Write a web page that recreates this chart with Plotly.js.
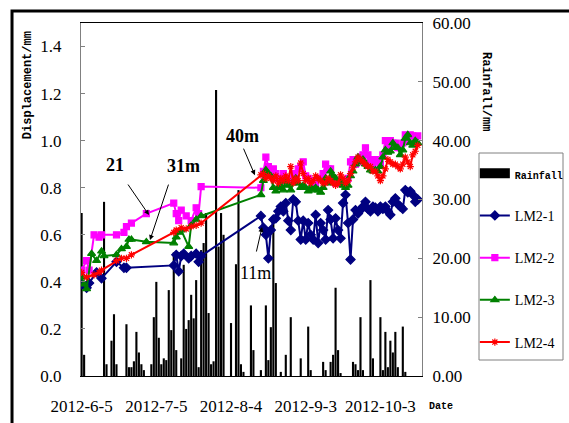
<!DOCTYPE html>
<html>
<head>
<meta charset="utf-8">
<script src="https://cdn.plot.ly/plotly-3.0.1.min.js"></script>
<style>
  html, body { margin: 0; padding: 0; background: #fff; }
  #chart { width: 569px; height: 423px; }
</style>
</head>
<body>
<div id="chart"></div>
<script>
// Daily rainfall (mm), one value per day starting 2012-06-05
const rainStart = '2012-06-05';
const rainfall = [
  27.7, 3.6, 0, 0, 0, 0, 0, 0, 0, 29.6,
  2, 0, 6, 10.5, 2, 0, 0, 0, 8.8, 1.5,
  1.5, 2.5, 7.5, 4, 2, 1, 0, 0, 2, 10,
  16, 6.5, 2, 3, 2.7, 14.6, 7.8, 21, 4.4, 0,
  3, 18.9, 8, 9.5, 13.8, 9.8, 16.3, 1.5, 21.4, 22.6,
  27.7, 10.7, 2, 2.5, 48.6, 22, 27.7, 24, 0, 0,
  9, 0, 19, 31.6, 2, 0.7, 0, 0, 12, 4.4,
  0, 0, 1, 0, 12, 2.7, 8.3, 26.5, 15.8, 0,
  0.7, 0, 3.6, 0, 10, 0, 0, 0, 3, 0,
  0, 8.4, 1, 0, 0, 0, 0, 2.4, 1, 0,
  2.4, 3.6, 15, 4.4, 0.5, 0, 0, 0, 0, 2.4,
  2, 1, 10, 1, 0, 0, 16.3, 3, 0, 0,
  10, 1, 7.5, 1.5, 6, 4, 7.5, 1.5, 0, 8.4,
  0.7, 0, 0, 0, 0, 0, 0
];

// Sparse early readings (June - July)
const lm1EarlyDates = ['2012-06-05','2012-06-07','2012-06-08','2012-06-11','2012-06-13','2012-06-19','2012-06-22','2012-06-23',
  '2012-07-12','2012-07-13','2012-07-14','2012-07-15','2012-07-16','2012-07-18','2012-07-19','2012-07-21','2012-07-22','2012-07-23'];
const lm1Early = [0.39, 0.375, 0.395, 0.44, 0.415, 0.485, 0.46, 0.46,
  0.47, 0.515, 0.445, 0.51, 0.52, 0.50, 0.51, 0.52, 0.485, 0.51];

const lm2EarlyDates = ['2012-06-05','2012-06-07','2012-06-08','2012-06-10','2012-06-12','2012-06-13','2012-06-19','2012-06-22',
  '2012-06-23','2012-06-25','2012-07-01','2012-07-12','2012-07-13','2012-07-14','2012-07-15','2012-07-17','2012-07-19',
  '2012-07-21','2012-07-22','2012-07-23'];
const lm2Early = [0.45, 0.49, 0.45, 0.60, 0.59, 0.60, 0.60, 0.61,
  0.635, 0.65, 0.69, 0.735, 0.69, 0.66, 0.705, 0.68, 0.66,
  0.715, 0.69, 0.805];

const lm3EarlyDates = ['2012-06-05','2012-06-06','2012-06-07','2012-06-09','2012-06-11','2012-06-13','2012-06-14','2012-06-19',
  '2012-06-21','2012-06-23','2012-06-24','2012-06-25','2012-07-01','2012-07-12','2012-07-13','2012-07-14','2012-07-15',
  '2012-07-18','2012-07-19','2012-07-21','2012-07-23'];
const lm3Early = [0.42, 0.39, 0.37, 0.52, 0.49, 0.53, 0.51, 0.515,
  0.54, 0.55, 0.58, 0.58, 0.57, 0.565, 0.59, 0.61, 0.62,
  0.55, 0.64, 0.665, 0.68];

const lm4EarlyDates = ['2012-06-05','2012-06-07','2012-06-10','2012-06-12','2012-06-13','2012-06-19','2012-06-21','2012-06-23',
  '2012-06-25','2012-07-12','2012-07-13','2012-07-15','2012-07-17','2012-07-19','2012-07-21','2012-07-23'];
const lm4Early = [0.44, 0.42, 0.43, 0.44, 0.45, 0.49, 0.50, 0.50,
  0.515, 0.61, 0.62, 0.63, 0.625, 0.635, 0.64, 0.65];

// Daily readings from 2012-08-16 to 2012-10-18
const dailyStart = '2012-08-16';
const lm1Daily = [
  0.68, 0.63, 0.60, 0.50, 0.62, 0.665, 0.67, 0.70, 0.72, 0.70,
  0.735, 0.66, 0.62, 0.75, 0.74, 0.66, 0.58, 0.66, 0.58, 0.65,
  0.60, 0.58, 0.685, 0.565, 0.65, 0.62, 0.58, 0.705, 0.665, 0.585,
  0.67, 0.62, 0.585, 0.735, 0.77, 0.65, 0.495, 0.665, 0.705, 0.69,
  0.705, 0.72, 0.74, 0.71, 0.70, 0.72, 0.715, 0.70, 0.72, 0.71,
  0.72, 0.70, 0.685, 0.74, 0.755, 0.73, 0.72, 0.71, 0.79, 0.78,
  0.785, 0.77, 0.74, 0.75
];
const lm2Daily = [
  0.80, 0.87, 0.93, 0.89, 0.86, 0.88, 0.86, 0.84, 0.83, 0.86,
  0.84, 0.83, 0.83, 0.86, 0.84, 0.88, 0.89, 0.91, 0.85, 0.84,
  0.83, 0.83, 0.82, 0.84, 0.84, 0.86, 0.90, 0.88, 0.88, 0.84,
  0.82, 0.83, 0.82, 0.83, 0.82, 0.84, 0.91, 0.92, 0.90, 0.91,
  0.93, 0.94, 0.97, 0.94, 0.92, 0.90, 0.92, 0.91, 0.90, 0.94,
  1.00, 0.98, 1.00, 0.99, 0.99, 0.97, 0.97, 0.99, 1.025, 1.00,
  1.025, 1.02, 1.01, 1.02
];
const lm3Daily = [
  0.77, 0.83, 0.875, 0.86, 0.85, 0.80, 0.785, 0.80, 0.81, 0.79,
  0.83, 0.81, 0.79, 0.82, 0.84, 0.82, 0.80, 0.81, 0.80, 0.785,
  0.80, 0.79, 0.80, 0.79, 0.78, 0.80, 0.84, 0.82, 0.87, 0.85,
  0.84, 0.82, 0.83, 0.81, 0.80, 0.81, 0.85, 0.87, 0.90, 0.93,
  0.91, 0.92, 0.90, 0.89, 0.875, 0.87, 0.875, 0.87, 0.89, 0.93,
  0.96, 0.95, 0.955, 0.99, 0.97, 0.97, 0.94, 0.96, 1.01, 1.025,
  0.99, 0.98, 1.00, 0.99
];
const lm4Daily = [
  0.855, 0.86, 0.84, 0.85, 0.84, 0.83, 0.85, 0.82, 0.84, 0.83,
  0.85, 0.83, 0.89, 0.82, 0.84, 0.83, 0.905, 0.86, 0.83, 0.84,
  0.82, 0.83, 0.85, 0.84, 0.83, 0.82, 0.82, 0.84, 0.83, 0.82,
  0.81, 0.82, 0.855, 0.84, 0.82, 0.83, 0.86, 0.885, 0.91, 0.93,
  0.92, 0.91, 0.90, 0.89, 0.89, 0.87, 0.87, 0.85, 0.83, 0.85,
  0.88, 0.92, 0.91, 0.90, 0.90, 0.89, 0.88, 0.90, 0.93, 0.91,
  0.89, 0.94, 0.955, 0.98
];

const dateTickVals = ['2012-06-05','2012-07-05','2012-08-04','2012-09-03','2012-10-03'];
const dateTickText = ['2012-6-5','2012-7-5','2012-8-4','2012-9-3','2012-10-3'];
const seriesNames = ['LM2-1','LM2-2','LM2-3','LM2-4'];

// consecutive calendar days from a start date
function dailyDates(start, n) {
  const t0 = Date.parse(start + 'T00:00:00Z');
  const out = [];
  for (let i = 0; i < n; i++) out.push(new Date(t0 + i * 86400000).toISOString().slice(0, 10));
  return out;
}

const DAY = 86400000;
const serif = 'Liberation Serif';
const mono = 'Liberation Mono';

function lineTrace(name, earlyX, earlyY, daily, color, symbol, size, group) {
  return {
    type: 'scatter', mode: 'lines+markers', name: name,
    x: earlyX.concat(dailyDates(dailyStart, daily.length)),
    y: earlyY.concat(daily),
    yaxis: 'y2',
    line: { color: color, width: 2 },
    marker: { color: color, symbol: symbol, size: size, line: { color: color, width: 1.2 } },
    legendgroup: group
  };
}

const rainName = '<span style="font-family:Liberation Mono;font-size:10px;font-weight:bold">Rainfall</span>';

const traces = [
  {
    type: 'bar', name: rainName, showlegend: false,
    x: dailyDates(rainStart, rainfall.length), y: rainfall,
    width: 0.85 * DAY,
    marker: { color: '#000000', line: { width: 0 } },
    yaxis: 'y', legendgroup: 'g0'
  },
  // legend key for the rainfall bars (wide black block)
  {
    type: 'scatter', mode: 'lines', name: rainName, x: [null], y: [null], yaxis: 'y',
    line: { color: '#000000', width: 10 }, legendgroup: 'g0', showlegend: true
  },
  lineTrace(seriesNames[0], lm1EarlyDates, lm1Early, lm1Daily, '#000080', 'diamond', 7, 'g1'),
  lineTrace(seriesNames[1], lm2EarlyDates, lm2Early, lm2Daily, '#FF00FF', 'square', 6, 'g2'),
  lineTrace(seriesNames[2], lm3EarlyDates, lm3Early, lm3Daily, '#008000', 'triangle-up', 7, 'g3'),
  lineTrace(seriesNames[3], lm4EarlyDates, lm4Early, lm4Daily, '#FF0000', 'asterisk-open', 6, 'g4')
];

const tickFont = { family: serif, size: 17, color: '#000' };

// centred text label in paper coordinates
function label(x, y, text, font, angle) {
  return { xref: 'paper', yref: 'paper', x: x, y: y, text: text, showarrow: false,
    xanchor: 'center', yanchor: 'middle', textangle: angle || 0, font: font };
}
// leader line ending in an arrow head at (x, y), tail offset (ax, ay) in px
function leader(x, y, ax, ay) {
  return { xref: 'paper', yref: 'paper', x: x, y: y, ax: ax, ay: ay, text: '', showarrow: true,
    arrowhead: 2, arrowsize: 1, arrowwidth: 1, arrowcolor: '#000' };
}

const layout = {
  width: 569, height: 423,
  margin: { l: 81, r: 147, t: 23, b: 47, autoexpand: false },
  paper_bgcolor: '#fff', plot_bgcolor: '#fff',
  showlegend: true,
  xaxis: {
    type: 'date',
    range: ['2012-06-04 18:00', '2012-10-19 17:00'],
    tickmode: 'array', tickvals: dateTickVals, ticktext: dateTickText,
    ticks: '', showgrid: false, zeroline: false,
    showline: true, mirror: true, linecolor: '#000', linewidth: 1,
    tickfont: tickFont, ticklabelstandoff: 15
  },
  yaxis: {
    side: 'right', range: [0, 60],
    tickmode: 'array', tickvals: [0, 10, 20, 30, 40, 50, 60], tickformat: '.2f',
    ticks: 'inside', ticklen: 4, tickcolor: '#808080',
    showgrid: false, zeroline: false,
    showline: true, linecolor: '#808080', linewidth: 1,
    tickfont: tickFont, ticklabelstandoff: 6
  },
  yaxis2: {
    overlaying: 'y', side: 'left', range: [0, 1.5],
    tickmode: 'array', tickvals: [0, 0.2, 0.4, 0.6, 0.8, 1.0, 1.2, 1.4], tickformat: '.1f',
    ticks: 'inside', ticklen: 4, tickcolor: '#808080',
    showgrid: false, zeroline: false,
    showline: true, linecolor: '#808080', linewidth: 1,
    tickfont: tickFont, ticklabelstandoff: 15
  },
  legend: {
    x: 1.155, y: 0.6185, xanchor: 'left', yanchor: 'top',
    bgcolor: 'rgba(0,0,0,0)', borderwidth: 0,
    font: { family: serif, size: 14, color: '#000' },
    tracegroupgap: 21, itemwidth: 30
  },
  shapes: [
    // outer frame
    { type: 'rect', xref: 'paper', yref: 'paper', x0: -0.2023, x1: 1.6, y0: -0.3, y1: 1.034,
      line: { color: '#000', width: 3 }, fillcolor: 'rgba(0,0,0,0)' },
    // legend box
    { type: 'rect', xref: 'paper', yref: 'paper', x0: 1.1672, x1: 1.4135, y0: 0.0453, y1: 0.6317,
      line: { color: '#808080', width: 1 }, fillcolor: 'rgba(0,0,0,0)' }
  ],
  annotations: [
    label(-0.1554, 0.824, 'Displacement/mm', { family: mono, size: 12, color: '#000', weight: 'bold' }, -90),
    label(1.1877, 0.807, 'Rainfall/mm', { family: mono, size: 12, color: '#000', weight: 'bold' }, 90),
    label(1.0557, -0.0878, 'Date', { family: mono, size: 10, color: '#000', weight: 'bold' }),
    // depth labels
    label(0.0997, 0.598, '21', { family: serif, size: 18, color: '#000', weight: 'bold' }),
    label(0.302, 0.595, '31m', { family: serif, size: 18, color: '#000', weight: 'bold' }),
    label(0.475, 0.680, '40m', { family: serif, size: 18, color: '#000', weight: 'bold' }),
    label(0.512, 0.292, '11m', { family: serif, size: 18, color: '#000' }),
    // leader arrows
    leader(0.1994, 0.456, -22, -32),
    leader(0.2023, 0.385, 19, -57),
    leader(0.510, 0.569, -12, -28),
    leader(0.531, 0.422, -6, 26)
  ]
};

Plotly.newPlot('chart', traces, layout, { displayModeBar: false, staticPlot: true });
</script>
</body>
</html>
